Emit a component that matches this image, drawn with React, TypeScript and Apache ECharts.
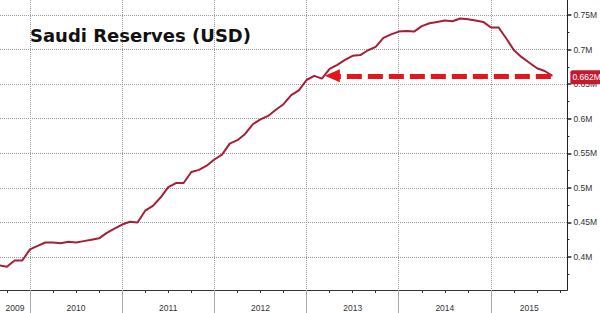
import React, { useEffect, useRef } from "react";
import * as echarts from "echarts";

// Monthly reserves (USD, millions shown as "M"), month-end, starting Aug 2009
const startYear = 2009;
const startMonth = 8;
const reserves = [
  0.388, 0.386, 0.395, 0.395, 0.411,
  0.416, 0.421, 0.421, 0.42, 0.422, 0.421, 0.423, 0.425, 0.427, 0.435, 0.441, 0.447,
  0.451, 0.45, 0.467, 0.474, 0.486, 0.501, 0.507, 0.507, 0.523, 0.526, 0.532, 0.541,
  0.548, 0.564, 0.569, 0.578, 0.592, 0.599, 0.604, 0.613, 0.621, 0.634, 0.641, 0.656,
  0.662, 0.658, 0.672, 0.678, 0.685, 0.691, 0.692, 0.699, 0.704, 0.717, 0.722, 0.726,
  0.727, 0.726, 0.734, 0.738, 0.74, 0.742, 0.741, 0.745, 0.744, 0.742, 0.74, 0.732,
  0.732, 0.716, 0.699, 0.689, 0.681, 0.673, 0.669, 0.662,
];

const yearBoundaries = [2010, 2011, 2012, 2013, 2014, 2015];
const yearLabels = ["2009", "2010", "2011", "2012", "2013", "2014", "2015"];
const yTicks = [0.4, 0.45, 0.5, 0.55, 0.6, 0.65, 0.7, 0.75];
const yMinorTicks = [0.375, 0.425, 0.475, 0.525, 0.575, 0.625, 0.675, 0.725];
const lastValue = 0.662;
const lastLabel = "0.662M";
const arrowFromX = 2015.65;
const arrowToX = 2013.28;
const titleText = "Saudi Reserves (USD)";

const X_MIN = 2009.675;
const X_MAX = 2015.829;
const Y_MIN = 0.3523;
const Y_MAX = 0.7717;

export default function App() {
  const ref = useRef<HTMLDivElement>(null);
  useEffect(() => {
    document.body.style.margin = "0";
    if (!ref.current) return;
    const chart = echarts.init(ref.current, undefined, { renderer: "svg" });

    const data = reserves.map((v, i) => [startYear + (startMonth + i) / 12, v]);

    // quarterly minor ticks
    const quarters: number[] = [];
    for (let y = 2009; y <= 2015; y++) {
      [0.25, 0.5, 0.75].forEach((q) => {
        const v = y + q;
        if (v > X_MIN && v < X_MAX) quarters.push(v);
      });
    }
    // year labels centred in visible part of each year
    const labelPos = yearLabels.map((s) => {
      const y = +s;
      const a = Math.max(y, X_MIN);
      const b = Math.min(y + 1, X_MAX);
      return (a + b) / 2;
    });

    const labelFont = { fontFamily: "Liberation Sans", fontSize: 8.5, color: "#333" };
    const dotted = { type: "dotted" as const, color: "#9a9a9a", width: 1 };

    chart.setOption({
      animation: false,
      backgroundColor: "#ffffff",
      title: {
        text: titleText,
        left: 25,
        top: 21,
        textStyle: { fontFamily: "DejaVu Sans", fontWeight: "bold", fontSize: 18, color: "#111" },
      },
      grid: { left: 0, right: 32, top: 0, bottom: 23 },
      xAxis: [
        {
          type: "value",
          min: X_MIN,
          max: X_MAX,
          position: "bottom",
          axisLine: { show: true, lineStyle: { color: "#333", width: 1 } },
          axisTick: { show: true, customValues: yearBoundaries, length: 24, lineStyle: { color: "#aaa" } },
          axisLabel: { show: false },
          splitLine: { show: true, lineStyle: dotted },
        },
        {
          type: "value",
          min: X_MIN,
          max: X_MAX,
          position: "bottom",
          axisLine: { show: false },
          axisTick: { show: true, customValues: quarters, length: 3, lineStyle: { color: "#333" } },
          axisLabel: { show: false },
          splitLine: { show: false },
        },
        {
          type: "value",
          min: X_MIN,
          max: X_MAX,
          position: "bottom",
          axisLine: { show: false },
          axisTick: { show: false },
          axisLabel: {
            show: true,
            customValues: labelPos,
            margin: 13,
            formatter: (v: number) => String(Math.floor(v)),
            ...labelFont,
          },
          splitLine: { show: false },
        },
      ],
      yAxis: [
        {
          type: "value",
          min: Y_MIN,
          max: Y_MAX,
          position: "right",
          axisLine: { show: true, lineStyle: { color: "#222", width: 1 } },
          axisTick: { show: true, customValues: yTicks, length: 4, lineStyle: { color: "#222", width: 1.5 } },
          axisLabel: {
            show: true,
            customValues: yTicks,
            margin: 6,
            formatter: (v: number) => `${+v.toFixed(3)}M`,
            ...labelFont,
          },
          splitLine: { show: true, lineStyle: dotted },
        },
        {
          type: "value",
          min: Y_MIN,
          max: Y_MAX,
          position: "right",
          axisLine: { show: false },
          axisTick: { show: true, customValues: yMinorTicks, length: 2, lineStyle: { color: "#222" } },
          axisLabel: { show: false },
          splitLine: { show: false },
        },
      ],
      series: [
        {
          type: "line",
          xAxisIndex: 0,
          yAxisIndex: 0,
          data,
          symbol: "none",
          lineStyle: { color: "#a51f36", width: 2 },
          z: 3,
          markLine: {
            silent: true,
            symbol: ["none", "none"],
            animation: false,
            data: [
              [
                { coord: [arrowFromX, lastValue], symbol: "none" },
                { coord: [arrowToX, lastValue], symbol: "triangle", symbolSize: [13, 15] },
              ],
              {
                yAxis: lastValue,
                symbol: "none",
                lineStyle: { color: "rgba(255,255,255,0)", width: 0, type: "solid" },
                label: {
                  show: true,
                  position: "end",
                  distance: 3,
                  formatter: lastLabel,
                  color: "#ffffff",
                  backgroundColor: "#c4192f",
                  borderRadius: 2,
                  padding: [3, 3, 2, 2],
                  fontFamily: "Liberation Sans",
                  fontSize: 8.5,
                  opacity: 1,
                },
              },
            ],
            lineStyle: { color: "#e8141c", width: 5, type: [15, 6], opacity: 1 },
            itemStyle: { color: "#e8141c" },
            label: { show: false },
          },
        },
      ],
    });
    return () => chart.dispose();
  }, []);
  return <div ref={ref} style={{ width: 600, height: 313 }} />;
}
